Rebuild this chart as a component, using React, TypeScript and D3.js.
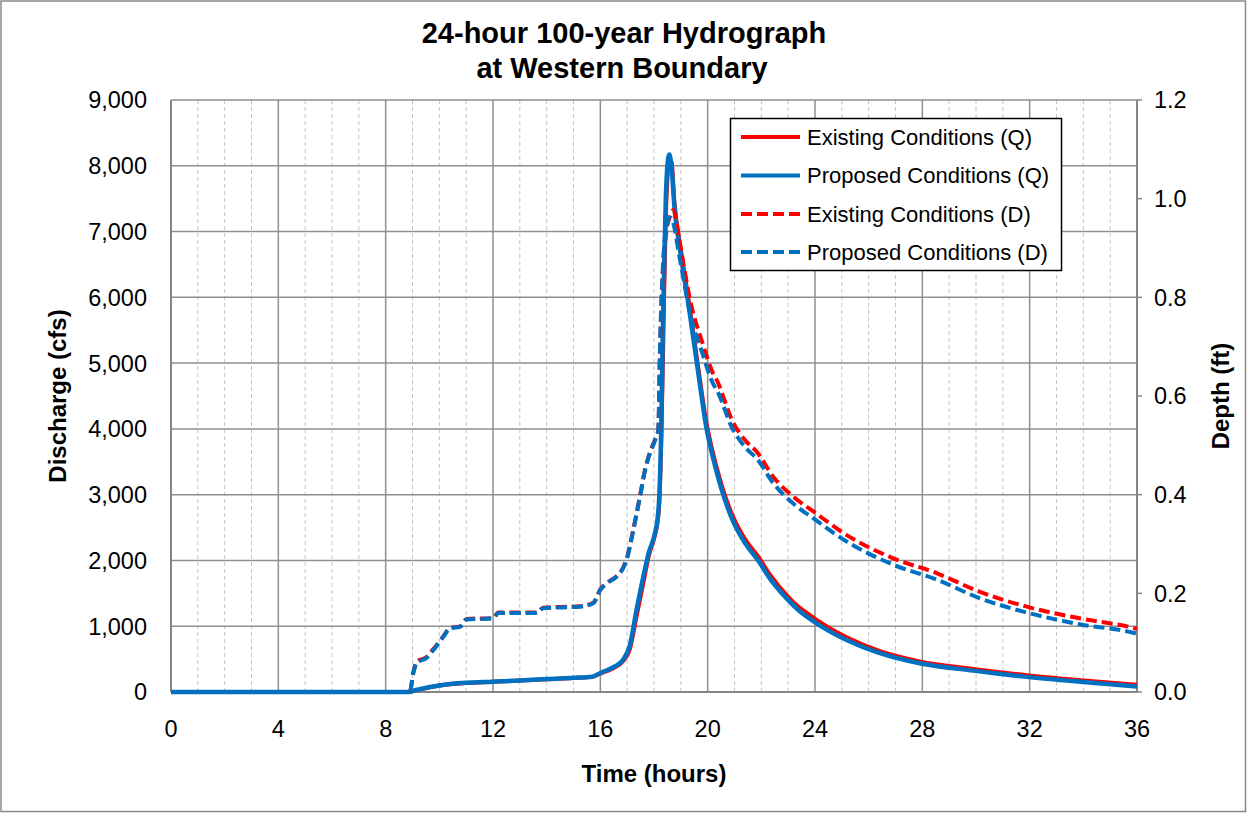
import React from "react";
import * as d3 from "d3";

// ---------- DATA ----------
const qTimes = [0, 8.9, 9.0, 9.3, 9.7, 10, 10.5, 11, 12, 13, 14, 15, 15.7, 16, 16.5, 16.85, 17.1, 17.35, 17.6, 17.8, 18.04, 18.13, 18.2, 18.27, 18.33, 18.38, 18.44, 18.5, 18.57, 18.65, 18.76, 19.0, 19.3, 19.65, 19.94, 20.3, 20.58, 20.9, 21.4, 21.9, 22.33, 22.95, 23.4, 23.88, 24.19, 25.18, 26.42, 27.9, 29.9, 31.9, 33.9, 36];
const qExisting = [0, 0, 12, 40, 75, 98, 122, 138, 155, 173, 195, 212, 230, 280, 365, 470, 650, 1150, 1650, 2060, 2390, 2580, 2900, 3800, 5000, 6100, 7200, 7800, 8050, 8060, 7450, 6730, 5930, 4930, 4130, 3470, 3070, 2710, 2320, 2050, 1780, 1470, 1290, 1150, 1060, 830, 620, 465, 350, 255, 180, 110];
const qProposed = [0, 0, 15, 45, 80, 100, 125, 140, 157, 175, 198, 215, 233, 290, 380, 490, 710, 1250, 1750, 2110, 2420, 2620, 3000, 4000, 5500, 6500, 7500, 8000, 8170, 8000, 7380, 6650, 5850, 4850, 4050, 3400, 3000, 2640, 2260, 1990, 1720, 1420, 1240, 1094, 1010, 790, 590, 436, 325, 230, 155, 85];

const dTimes = [0, 8.9, 9.03, 9.16, 9.5, 9.78, 10.15, 10.4, 10.77, 11.02, 12.0, 12.2, 13.63, 13.87, 15.24, 15.74, 16.0, 16.24, 16.61, 16.85, 16.98, 17.23, 17.48, 17.67, 17.85, 18.04, 18.16, 18.22, 18.33, 18.45, 18.6, 18.72, 18.94, 19.4, 19.77, 20.2, 20.34, 20.96, 21.2, 21.45, 21.83, 22.45, 23.19, 23.94, 25.18, 26.92, 28.53, 30.15, 31.89, 33.9, 35.86, 36];
const dExisting = [0, 0, 0.04, 0.062, 0.07, 0.087, 0.113, 0.13, 0.133, 0.148, 0.15, 0.161, 0.161, 0.171, 0.174, 0.181, 0.208, 0.221, 0.235, 0.252, 0.27, 0.33, 0.398, 0.452, 0.486, 0.512, 0.53, 0.68, 0.85, 0.93, 0.965, 0.977, 0.916, 0.781, 0.714, 0.646, 0.632, 0.545, 0.524, 0.507, 0.487, 0.436, 0.396, 0.366, 0.318, 0.271, 0.241, 0.203, 0.173, 0.149, 0.13, 0.128];
const dProposed = [0, 0, 0.038, 0.06, 0.068, 0.085, 0.112, 0.129, 0.132, 0.147, 0.149, 0.16, 0.16, 0.17, 0.173, 0.18, 0.207, 0.22, 0.234, 0.251, 0.268, 0.328, 0.396, 0.45, 0.484, 0.51, 0.53, 0.69, 0.86, 0.94, 0.962, 0.95, 0.885, 0.755, 0.692, 0.625, 0.612, 0.53, 0.51, 0.493, 0.473, 0.423, 0.382, 0.352, 0.305, 0.258, 0.228, 0.19, 0.161, 0.137, 0.12, 0.118];

const xTicks = [0, 4, 8, 12, 16, 20, 24, 28, 32, 36];
const qTicks = [0, 1000, 2000, 3000, 4000, 5000, 6000, 7000, 8000, 9000];
const dTicks = [0, 0.2, 0.4, 0.6, 0.8, 1.0, 1.2];

const legendLabels = [
  "Existing Conditions (Q)",
  "Proposed Conditions (Q)",
  "Existing Conditions (D)",
  "Proposed Conditions (D)",
];

const RED = "#FF0000";
const BLUE = "#0070C0";
const FONT = "'Liberation Sans', Arial, sans-serif";

export default function App() {
  const W = 1247, H = 813;
  const L = 171, R = 1137, T = 100, B = 692;
  const x = d3.scaleLinear().domain([0, 36]).range([L, R]);
  const yQ = d3.scaleLinear().domain([0, 9000]).range([B, T]);
  const yD = d3.scaleLinear().domain([0, 1.2]).range([B, T]);

  const lineQ = d3.line<number>().x((_, i) => x(qTimes[i])).y((v) => yQ(v)).curve(d3.curveMonotoneX);
  const lineD = d3.line<number>().x((_, i) => x(dTimes[i])).y((v) => yD(v)).curve(d3.curveMonotoneX);

  const minorTicks = d3.range(0, 37, 1).filter((t) => t % 4 !== 0);

  const series = [
    { d: lineQ(qExisting), color: RED, w: 4, dash: undefined },
    { d: lineQ(qProposed), color: BLUE, w: 4.5, dash: undefined },
    { d: lineD(dExisting), color: RED, w: 4, dash: "11,5" },
    { d: lineD(dProposed), color: BLUE, w: 4, dash: "11,5" },
  ];

  const legendRows = [137, 175.5, 214, 252];

  return (
    <svg width={W} height={H} style={{ position: "absolute", left: 0, top: 0, background: "#fff" }} fontFamily={FONT}>
      <rect x={1} y={1} width={W - 2.5} height={H - 2.5} fill="#fff" stroke="#8a8a8a" strokeWidth={1.5} />

      {/* minor vertical gridlines */}
      {minorTicks.map((t) => (
        <line key={"m" + t} x1={x(t)} x2={x(t)} y1={T} y2={B} stroke="#c4c4c4" strokeWidth={1} strokeDasharray="4,3" />
      ))}
      {/* major vertical gridlines */}
      {xTicks.map((t) => (
        <line key={"v" + t} x1={x(t)} x2={x(t)} y1={T} y2={B} stroke="#8f8f8f" strokeWidth={1.5} />
      ))}
      {/* horizontal gridlines */}
      {qTicks.map((q) => (
        <line key={"h" + q} x1={L} x2={R} y1={yQ(q)} y2={yQ(q)} stroke="#8f8f8f" strokeWidth={1.5} />
      ))}
      {/* axes */}
      <line x1={L} x2={L} y1={T} y2={B} stroke="#868686" strokeWidth={2} />
      <line x1={L} x2={R} y1={B} y2={B} stroke="#868686" strokeWidth={2} />
      <line x1={R} x2={R} y1={T} y2={B} stroke="#868686" strokeWidth={2} />
      {dTicks.map((v) => (
        <line key={"dt" + v} x1={R} x2={R + 5} y1={yD(v)} y2={yD(v)} stroke="#868686" strokeWidth={1.5} />
      ))}

      {/* series */}
      {series.map((s, i) => (
        <path key={"s" + i} d={s.d || ""} fill="none" stroke={s.color} strokeWidth={s.w} strokeDasharray={s.dash} strokeLinejoin="round" />
      ))}

      {/* left tick labels */}
      {qTicks.map((q) => (
        <text key={"ql" + q} x={147} y={yQ(q)} dy="0.36em" textAnchor="end" fontSize={23.5} fill="#000">
          {d3.format(",")(q)}
        </text>
      ))}
      {/* right tick labels */}
      {dTicks.map((v) => (
        <text key={"dl" + v} x={1154} y={yD(v)} dy="0.36em" textAnchor="start" fontSize={23.5} fill="#000">
          {v.toFixed(1)}
        </text>
      ))}
      {/* x tick labels */}
      {xTicks.map((t) => (
        <text key={"xl" + t} x={x(t)} y={737} textAnchor="middle" fontSize={23.5} fill="#000">
          {t}
        </text>
      ))}

      {/* titles */}
      <text x={624} y={43} textAnchor="middle" fontSize={29} fontWeight="bold">24-hour 100-year Hydrograph</text>
      <text x={622} y={78} textAnchor="middle" fontSize={29} fontWeight="bold">at Western Boundary</text>
      <text x={654} y={782} textAnchor="middle" fontSize={24} fontWeight="bold">Time (hours)</text>
      <text transform={`translate(66,${(T + B) / 2}) rotate(-90)`} textAnchor="middle" fontSize={24} fontWeight="bold">Discharge (cfs)</text>
      <text transform={`translate(1229,${(T + B) / 2}) rotate(-90)`} textAnchor="middle" fontSize={24} fontWeight="bold">Depth (ft)</text>

      {/* legend */}
      <rect x={730.5} y={118.5} width={331} height={152} fill="#fff" stroke="#000" strokeWidth={1.5} />
      {legendLabels.map((lab, i) => (
        <g key={"lg" + i}>
          <line x1={741} x2={800} y1={legendRows[i]} y2={legendRows[i]} stroke={series[i].color} strokeWidth={4}
            strokeDasharray={series[i].dash ? "11,5" : undefined} />
          <text x={807} y={legendRows[i]} dy="0.36em" fontSize={22} fill="#000">{lab}</text>
        </g>
      ))}
    </svg>
  );
}
